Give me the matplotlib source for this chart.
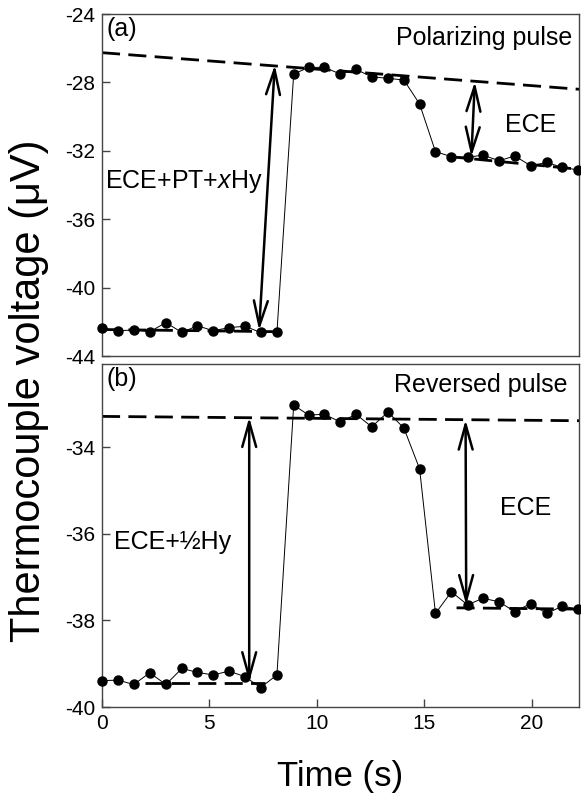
import matplotlib
matplotlib.use("Agg")
import matplotlib.pyplot as plt
from matplotlib.patches import FancyArrowPatch

plt.rcParams['font.family'] = ['Liberation Sans', 'DejaVu Sans']
plt.rcParams['mathtext.fontset'] = 'custom'
plt.rcParams['mathtext.rm'] = 'Liberation Sans'
plt.rcParams['mathtext.it'] = 'Liberation Sans:italic'
plt.rcParams['axes.unicode_minus'] = False

# --------------------------
# data
# --------------------------
time_s = [0, 0.75, 1.48, 2.22, 2.97, 3.72, 4.44, 5.17, 5.91, 6.65, 7.38,
          8.14, 8.92, 9.62, 10.35, 11.09, 11.82, 12.55, 13.31, 14.05, 14.78,
          15.52, 16.26, 17.01, 17.73, 18.48, 19.21, 19.95, 20.69, 21.43, 22.16]

volt_a = [-42.38, -42.52, -42.48, -42.58, -42.05, -42.62, -42.23, -42.52,
          -42.34, -42.26, -42.62, -42.62, -27.51, -27.12, -27.12, -27.51,
          -27.24, -27.67, -27.76, -27.86, -29.26, -32.05, -32.34, -32.38,
          -32.25, -32.58, -32.30, -32.87, -32.68, -32.97, -33.12]

volt_b = [-39.39, -39.38, -39.48, -39.21, -39.48, -39.11, -39.20, -39.26,
          -39.17, -39.30, -39.55, -39.26, -33.03, -33.26, -33.24, -33.42,
          -33.24, -33.53, -33.19, -33.56, -34.50, -37.84, -37.34, -37.64,
          -37.49, -37.57, -37.80, -37.61, -37.84, -37.67, -37.74]

# baselines (dashed), as ([x0, x1], [y0, y1])
base_a = [([0, 22.2], [-26.26, -28.4]),
          ([0, 8.4], [-42.45, -42.58]),
          ([16.1, 22.2], [-32.33, -33.08])]
base_b = [([0, 22.2], [-33.29, -33.39]),
          ([2.0, 7.6], [-39.44, -39.44]),
          ([16.5, 22.2], [-37.71, -37.74])]

# double arrows, as ((x0, y0), (x1, y1))
arrows_a = [((7.31, -42.50), (8.04, -26.98)),
            ((17.19, -32.34), (17.35, -27.96))]
arrows_b = [((6.85, -39.42), (6.85, -33.31)),
            ((16.95, -37.64), (16.92, -33.37))]

yticks_a = [-44, -40, -36, -32, -28, -24]
yticks_b = [-40, -38, -36, -34]
xticks = [0, 5, 10, 15, 20]

# --------------------------
# figure
# --------------------------
fig = plt.figure(figsize=(5.81, 7.97), dpi=100)
ax_a = fig.add_axes([0.1756, 0.5533, 0.821, 0.4291])
ax_b = fig.add_axes([0.1756, 0.1129, 0.821, 0.4304])

spine_col = '#444444'


def draw_panel(ax, v, bases, arrows):
    ax.plot(time_s, v, color='black', lw=0.7, marker='o', ms=6.5,
            clip_on=False, zorder=3)
    for bx, by in bases:
        ax.plot(bx, by, color='black', lw=2.0, dashes=(6.5, 3), zorder=2)
    for p0, p1 in arrows:
        ax.add_patch(FancyArrowPatch(p0, p1,
                                     arrowstyle='<->,head_length=0.9,head_width=0.25',
                                     mutation_scale=20, lw=1.8, color='black',
                                     shrinkA=0, shrinkB=0, zorder=4))
    ax.set_xlim(0, 22.2)
    ax.tick_params(direction='in', length=6, width=1, labelsize=15,
                   color=spine_col, pad=5)
    for s in ax.spines.values():
        s.set_color(spine_col)
        s.set_linewidth(1)


draw_panel(ax_a, volt_a, base_a, arrows_a)
draw_panel(ax_b, volt_b, base_b, arrows_b)

ax_a.set_ylim(-44, -24)
ax_a.set_yticks(yticks_a)
ax_a.set_xticks([])
ax_b.set_ylim(-40, -32.08)
ax_b.set_yticks(yticks_b)
ax_b.set_xticks(xticks)

# texts
ax_a.text(0.01, 0.99, '(a)', transform=ax_a.transAxes, fontsize=18,
          ha='left', va='top')
ax_a.text(0.985, 0.93, 'Polarizing pulse', transform=ax_a.transAxes,
          fontsize=18, ha='right', va='center')
ax_a.text(0.12, -33.8, r'ECE+PT+$\mathit{x}$Hy', fontsize=18,
          ha='left', va='center')
ax_a.text(19.95, -30.5, 'ECE', fontsize=18, ha='center', va='center')

ax_b.text(0.01, 0.99, '(b)', transform=ax_b.transAxes, fontsize=18,
          ha='left', va='top')
ax_b.text(0.975, 0.94, 'Reversed pulse', transform=ax_b.transAxes,
          fontsize=18, ha='right', va='center')
ax_b.text(0.58, -36.18, 'ECE+\u00bdHy', fontsize=18, ha='left', va='center')
ax_b.text(19.7, -35.4, 'ECE', fontsize=18, ha='center', va='center')

fig.text(0.05, 0.51, 'Thermocouple voltage (\u03bcV)', rotation=90,
         fontsize=30, ha='center', va='center')
fig.text(0.585, 0.026, 'Time (s)', fontsize=25, ha='center', va='center')

fig.savefig('out.png', dpi=100)
